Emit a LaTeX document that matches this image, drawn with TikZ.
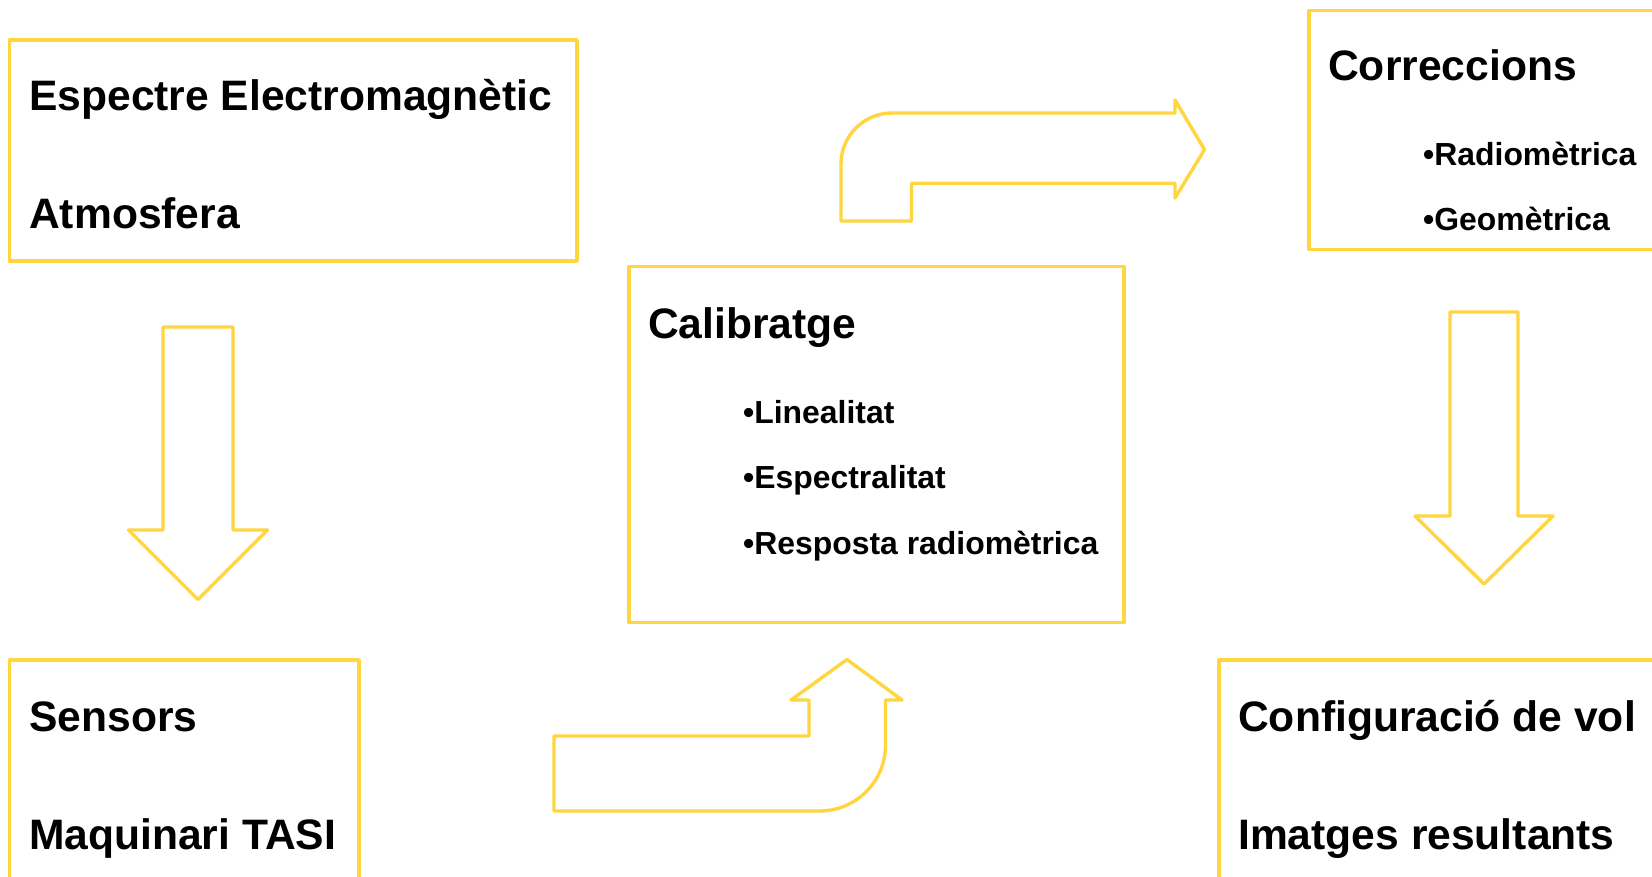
\documentclass[tikz,border=0pt]{standalone}
\usepackage{fontspec}
\setmainfont{Liberation Sans}
\definecolor{yel}{RGB}{255,213,64}
\begin{document}
\begin{tikzpicture}[x=1pt,y=-1pt,
  box/.style={draw=yel,line width=3.4pt,line join=round},
  blockarrow/.style={draw=yel,line width=3.4pt,line join=round,line cap=round},
  title/.style={anchor=base west,inner sep=0pt,font=\bfseries\fontsize{42.6}{50}\selectfont},
  item/.style={anchor=base west,inner sep=0pt,font=\bfseries\fontsize{31.9}{38}\selectfont}]
\useasboundingbox (0,0) rectangle (1652,877);
\clip (0,0) rectangle (1652,877);
\fill[white] (0,0) rectangle (1652,877);
% boxes
\draw[box] (9.5,40) rectangle (577,261);
\draw[box] (9.5,660) rectangle (359,920);
\draw[box] (629,266.5) rectangle (1124,622.5);
\draw[box] (1309,10.5) rectangle (1720,249.5);
\draw[box] (1219,660) rectangle (1720,920);
% texts
\node[title] (t1) at (29,110.5) {Espectre Electromagnètic};
\node[title] (t2) at (29,228.5) {Atmosfera};
\node[title] (t3) at (29,731) {Sensors};
\node[title] (t4) at (29,849) {Maquinari TASI};
\node[title] (t5) at (648,338) {Calibratge};
\node[item] (t6) at (743,423) {•Linealitat};
\node[item] (t7) at (743,488.5) {•Espectralitat};
\node[item] (t8) at (743,554.5) {•Resposta radiomètrica};
\node[title] (t9) at (1328,81) {Correccions};
\node[item] (t10) at (1423,166) {•Radiomètrica};
\node[item] (t11) at (1423,230.5) {•Geomètrica};
\node[title] (t12) at (1238,731) {Configuració de vol};
\node[title] (t13) at (1238,849) {Imatges resultants};
% block arrows
\draw[blockarrow] (163,327) -- (233,327) -- (233,530) -- (267.5,530) -- (198,599.5) -- (128.5,530) -- (163,530) -- cycle;
\draw[blockarrow] (1450,312) -- (1518,312) -- (1518,516) -- (1553,516) -- (1484,584) -- (1415,516) -- (1450,516) -- cycle;
\draw[blockarrow] (841,221) -- (841,164) .. controls (841,135.8) and (863.8,113) .. (892,113) -- (1175,113) -- (1175,100) -- (1204.5,149.6) -- (1175,198) -- (1175,183.3) -- (911.5,183.3) -- (911.5,221) -- cycle;
\draw[blockarrow] (554,736) -- (809,736) -- (809,700) -- (791,700) -- (847,659.5) -- (902,700) -- (885.5,700) -- (885.5,745) .. controls (885.5,781.5) and (856,811) .. (819.5,811) -- (554,811) -- cycle;
\end{tikzpicture}
\end{document}
